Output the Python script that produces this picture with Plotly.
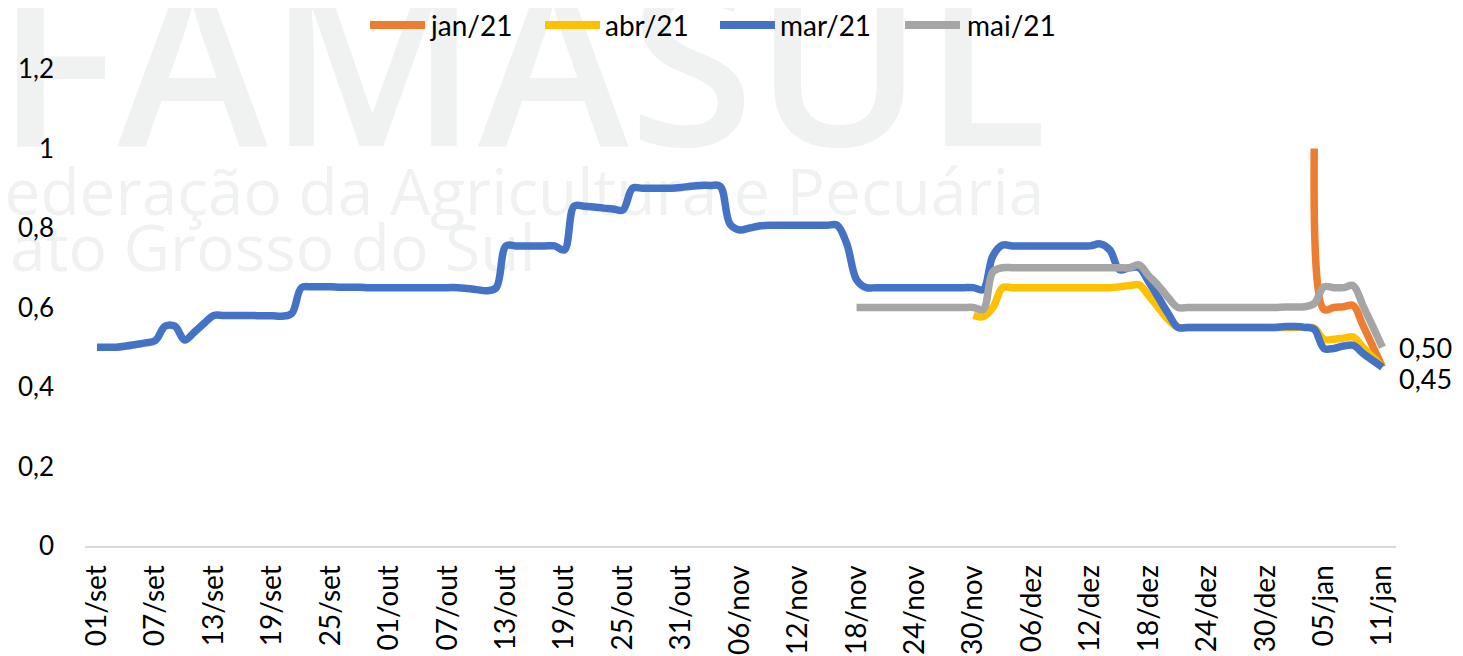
import plotly.graph_objs as go
import pandas as pd

# preço diário por contrato, leitura aproximada do gráfico (01/set/2020 a 11/jan/2021)
jan_start = '2021-01-04'
jan_values = [1.00, 0.595, 0.60, 0.602, 0.605, 0.555, 0.503, 0.45]

abr_start = '2020-11-30'
abr_values = [0.58, 0.577, 0.60, 0.65, 0.65, 0.65, 0.65, 0.65, 0.65, 0.65,
              0.65, 0.65, 0.65, 0.65, 0.65, 0.652, 0.655, 0.657, 0.63, 0.60,
              0.57, 0.55, 0.55, 0.55, 0.55, 0.55, 0.55, 0.55, 0.55, 0.55,
              0.55, 0.55, 0.55, 0.55, 0.55, 0.548, 0.52, 0.52, 0.523, 0.526,
              0.50, 0.475, 0.45]

mar_start = '2020-09-01'
mar_values = [0.50, 0.50, 0.50, 0.503, 0.507, 0.511, 0.517, 0.553, 0.553, 0.518,
              0.538, 0.56, 0.58, 0.58, 0.58, 0.58, 0.58, 0.579, 0.579, 0.578,
              0.585, 0.65, 0.652, 0.652, 0.652, 0.651, 0.651, 0.651, 0.65, 0.65,
              0.65, 0.65, 0.65, 0.65, 0.65, 0.65, 0.65, 0.65, 0.648, 0.645,
              0.642, 0.65, 0.755, 0.755, 0.755, 0.755, 0.755, 0.755, 0.745, 0.855,
              0.855, 0.853, 0.85, 0.848, 0.845, 0.90, 0.90, 0.90, 0.90, 0.90,
              0.902, 0.905, 0.907, 0.907, 0.905, 0.81, 0.795, 0.80, 0.805, 0.807,
              0.807, 0.807, 0.807, 0.807, 0.807, 0.807, 0.807, 0.76, 0.67, 0.65,
              0.65, 0.65, 0.65, 0.65, 0.65, 0.65, 0.65, 0.65, 0.65, 0.65,
              0.65, 0.645, 0.73, 0.757, 0.755, 0.755, 0.755, 0.755, 0.755, 0.755,
              0.755, 0.755, 0.755, 0.76, 0.745, 0.695, 0.70, 0.70, 0.665, 0.625,
              0.585, 0.55, 0.55, 0.55, 0.55, 0.55, 0.55, 0.55, 0.55, 0.55,
              0.55, 0.55, 0.552, 0.552, 0.55, 0.545, 0.497, 0.497, 0.503, 0.505,
              0.485, 0.467, 0.45]

mai_start = '2020-11-18'
mai_values = [0.60, 0.60, 0.60, 0.60, 0.60, 0.60, 0.60, 0.60, 0.60, 0.60,
              0.60, 0.60, 0.60, 0.595, 0.69, 0.70, 0.70, 0.70, 0.70, 0.70,
              0.70, 0.70, 0.70, 0.70, 0.70, 0.70, 0.70, 0.70, 0.70, 0.707,
              0.68, 0.655, 0.625, 0.60, 0.60, 0.60, 0.60, 0.60, 0.60, 0.60,
              0.60, 0.60, 0.60, 0.60, 0.601, 0.601, 0.602, 0.61, 0.652, 0.65,
              0.65, 0.655, 0.605, 0.553, 0.50]

tick_dates = ['2020-09-01', '2020-09-07', '2020-09-13', '2020-09-19', '2020-09-25',
              '2020-10-01', '2020-10-07', '2020-10-13', '2020-10-19', '2020-10-25',
              '2020-10-31', '2020-11-06', '2020-11-12', '2020-11-18', '2020-11-24',
              '2020-11-30', '2020-12-06', '2020-12-12', '2020-12-18', '2020-12-24',
              '2020-12-30', '2021-01-05', '2021-01-11']
tick_labels = ['01/set', '07/set', '13/set', '19/set', '25/set', '01/out', '07/out',
               '13/out', '19/out', '25/out', '31/out', '06/nov', '12/nov', '18/nov',
               '24/nov', '30/nov', '06/dez', '12/dez', '18/dez', '24/dez', '30/dez',
               '05/jan', '11/jan']

FONT = 'Lato'
series = [
    ('jan/21', jan_start, jan_values, '#ED7D31'),
    ('abr/21', abr_start, abr_values, '#FFC000'),
    ('mar/21', mar_start, mar_values, '#4472C4'),
    ('mai/21', mai_start, mai_values, '#A5A5A5'),
]

lines = []
for name, start, ys, color in series:
    xs = pd.date_range(start, periods=len(ys), freq='D')
    lines.append(go.Scatter(
        x=xs, y=ys, name=name, mode='lines', showlegend=False,
        line={'color': color, 'width': 7.5, 'shape': 'spline', 'smoothing': 1},
        hoverinfo='x+y+name'
    ))

fig = go.Figure(data=lines)


def pt(v):
    return f'{v:.2f}'.replace('.', ',')


end_date = pd.Timestamp(mar_start) + pd.Timedelta(days=len(mar_values) - 1)
fig.add_annotation(x=end_date, y=mai_values[-1], text=pt(mai_values[-1]),
                   showarrow=False, xanchor='left', xshift=15, yshift=0,
                   font={'family': FONT, 'size': 27, 'color': 'black'})
fig.add_annotation(x=end_date, y=mar_values[-1], text=pt(mar_values[-1]),
                   showarrow=False, xanchor='left', xshift=15, yshift=-11,
                   font={'family': FONT, 'size': 27, 'color': 'black'})


# posição em pixels da tela -> coordenada "paper"
def px(x):
    return (x - 85) / 1311


def py(y):
    return (546 - y) / 477


# legenda desenhada à mão (linhas longas como no original)
legend_pos = [(370, 428), (545, 603), (720, 778), (905, 965)]
for (name, _, _, color), (lx, tx) in zip(series, legend_pos):
    fig.add_shape(type='line', xref='paper', yref='paper',
                  x0=px(lx), x1=px(lx + 55), y0=py(25), y1=py(25),
                  line={'color': color, 'width': 8})
    fig.add_annotation(xref='paper', yref='paper', x=px(tx), y=py(25), text=name,
                       showarrow=False, xanchor='left', yanchor='middle',
                       font={'family': FONT, 'size': 28, 'color': 'black'})

# marca d'agua ao fundo
wm = '#f0f2f2'
fig.add_shape(type='rect', xref='paper', yref='paper', x0=-0.1, x1=0.766, y0=0.665, y1=1.0,
              line={'width': 0}, fillcolor='rgba(0,0,0,0)', layer='below',
              label={'text': 'FAMASUL', 'textposition': 'bottom center', 'padding': 0,
                     'font': {'family': 'Open Sans', 'size': 228, 'color': wm, 'weight': 600}})
fig.add_shape(type='rect', xref='paper', yref='paper', x0=-0.1, x1=0.745, y0=0.667, y1=0.807,
              line={'width': 0}, fillcolor='rgba(0,0,0,0)', layer='below',
              label={'text': 'Federação da Agricultura e Pecuária', 'textposition': 'middle center',
                     'padding': 0, 'font': {'family': 'Open Sans', 'size': 64, 'color': wm}})
fig.add_shape(type='rect', xref='paper', yref='paper', x0=-0.12, x1=0.346, y0=0.56, y1=0.68,
              line={'width': 0}, fillcolor='rgba(0,0,0,0)', layer='below',
              label={'text': 'Mato Grosso do Sul', 'textposition': 'middle right',
                     'padding': 0, 'font': {'family': 'Open Sans', 'size': 64, 'color': wm}})

fig.update_layout(
    width=1455, height=648,
    margin={'l': 77, 'r': 67, 't': 61, 'b': 110},
    plot_bgcolor='white', paper_bgcolor='white',
    separators=',.',
    font={'family': FONT, 'size': 26, 'color': 'black'},
    showlegend=False,
    xaxis={'type': 'date', 'range': ['2020-08-30 18:30', '2021-01-12 09:30'],
           'tickvals': tick_dates, 'ticktext': tick_labels, 'tickangle': -90,
           'showgrid': False, 'zeroline': False, 'showline': True,
           'linecolor': '#d9d9d9', 'linewidth': 2, 'ticks': '',
           'ticklabelstandoff': 6, 'automargin': False,
           'tickfont': {'family': FONT, 'size': 28, 'color': 'black'}},
    yaxis={'range': [0, 1.2], 'dtick': 0.2, 'tick0': 0, 'showgrid': False,
           'zeroline': False, 'showline': False, 'ticks': '',
           'ticklabelstandoff': 30, 'automargin': False,
           'tickfont': {'family': FONT, 'size': 26, 'color': 'black'}},
)

fig.write_html('out.html')
